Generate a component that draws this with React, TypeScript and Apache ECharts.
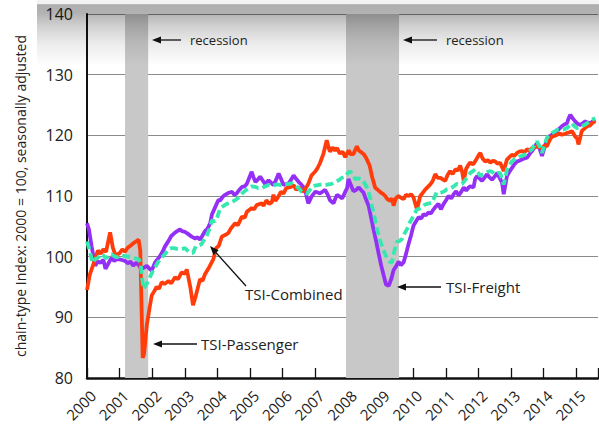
import React, { useEffect, useRef } from "react";
import * as echarts from "echarts";

// x = months since Jan 2000
const yearTicks = [2000, 2001, 2002, 2003, 2004, 2005, 2006, 2007, 2008, 2009, 2010, 2011, 2012, 2013, 2014, 2015];
const recessions: [number, number][] = [[14, 22.5], [95.3, 114.8]];

const passenger: [number, number][] = [[0,94.5],[1,97],[3,99.6],[4,101],[5,100.5],[6,101.2],[7,100.8],[8.5,104],[9.5,101.5],[10.5,100.2],[12,100.6],[13,101.2],[14,100.8],[15,101.5],[16,101.8],[17,102.2],[18,102.5],[19,102.8],[19.6,101],[20.5,83.3],[21,84],[22,88.7],[23,91.5],[23.8,93.6],[24.6,94.2],[25.6,95],[26.5,94.7],[27.5,95.8],[28.5,95.5],[30,96],[31,95.6],[32.4,96.6],[33.5,96.3],[34.8,97.4],[36,97.2],[36.7,97.9],[38,95],[39,92],[40,93.5],[41.6,96.3],[42.5,96],[43.4,97.1],[45,98.3],[46.5,99.6],[47.5,101.4],[48.5,101.8],[49.6,103.3],[51,103.6],[52,103.9],[53,104.7],[54.5,105.5],[55.5,105.2],[57,106.6],[58,106.4],[58.8,107.4],[60.6,108],[61.5,107.8],[62.4,108.5],[64.3,108.8],[65,108.4],[66,109.3],[67,108.7],[68,109],[68.6,110.2],[69.3,109.2],[70,109.6],[71.4,110.7],[72.3,110.4],[73.3,111.3],[75,111.5],[76,111.8],[77,111],[78,111.4],[79.6,110.7],[80.5,111.3],[81.4,112],[82.6,113.4],[83.9,114],[84.8,114.6],[85.7,115.4],[87,117],[88.2,119.2],[89,117.8],[89.4,117.3],[90.3,118],[91.2,117.5],[92,117.9],[93,117],[94,117.3],[95,116.4],[96.3,117.5],[97,116.9],[98,116.9],[99.3,118.2],[100,117.5],[101,117.2],[102,116.8],[103,116],[104,115],[104.8,113.3],[106,111.4],[107,111],[108,110.6],[109,110.3],[109.7,110],[110.5,109.5],[111.6,109.2],[112.2,109.6],[112.8,108.4],[113.6,109.6],[114.6,110],[115.5,109.7],[116.5,109.5],[117.3,110.2],[118.3,110],[119.2,110.3],[120.1,109.8],[121.4,107.8],[122.6,110],[123.5,110.5],[124.5,111.1],[125.4,111.5],[126.3,111.9],[127.2,112.5],[128.1,113.6],[129,113],[130,113],[131,112.7],[131.8,112.5],[132.7,113.5],[133.6,114.1],[134.5,113.6],[135.5,114.4],[136.4,114.2],[137.3,115],[138,114],[138.6,112.5],[139.5,114.5],[140.4,115.2],[141,115.5],[142,115.2],[142.8,115.7],[143.8,116.5],[144.7,117.1],[145.5,116.2],[146.5,115.7],[147.5,115.9],[148.4,115.5],[149.3,115.8],[150.2,115.7],[151,115.3],[152,115.5],[153.3,114.1],[154.5,116],[155.4,116.4],[156.3,116.8],[157.2,116.6],[158.2,117.1],[159,117.3],[160,117.4],[161,117.2],[161.9,117.7],[162.8,117.5],[163.7,117.9],[164.6,118],[165.5,118.2],[166.5,118],[167.4,117.9],[168.3,118.3],[169.2,118.2],[170,119],[171,119.8],[172,119.9],[172.9,120.1],[173.8,120.3],[174.7,120.1],[175.6,120.2],[176.6,120.4],[177.5,120.5],[178.4,120.7],[179.6,119.8],[180.3,119.5],[180.8,118.5],[181.4,119.5],[182,120.7],[183,121.1],[184,121.5],[185,121.6],[185.8,122],[187,122.3]];

const freight: [number, number][] = [[0,105.5],[0.7,104.5],[1.7,101.7],[3,98.5],[4,99.2],[5,99],[6,99.5],[6.8,98],[8,99],[9,99.8],[10,99.3],[11,99.6],[12.5,99.5],[14,99.3],[15,98.9],[16,99.2],[17,98.5],[18,99],[19,98.6],[20,98],[21,98.2],[22,98.5],[23,98],[23.8,97.7],[25,99],[26,99.6],[26.9,100.1],[27.8,100.8],[28.7,101.7],[30,102.6],[31,103.4],[32.5,104],[34.2,104.5],[35,104.2],[36,104.1],[37,103.8],[38.5,103.3],[39.8,103],[40.7,103.2],[41.6,102.8],[42.5,103.5],[43.4,104.2],[44.3,104.6],[45.3,105.5],[46,107],[47,108],[48.3,109.3],[49,109.3],[50,109.9],[50.8,110.2],[52,110.5],[53.3,110.7],[54.2,110.2],[55,110.4],[56,111],[57,111.5],[58,111.6],[58.8,112],[59.7,113],[60.6,114],[61.3,113],[62,112.3],[63,112.8],[63.7,113.2],[64.6,112.6],[65.5,112],[66.2,112.3],[66.8,112.6],[67.7,112.2],[68.6,111.8],[69.6,112.7],[70.5,113.7],[71.4,112.8],[72.3,111.8],[73.2,112],[74,112],[75,112.6],[76,113.4],[77,112.8],[77.9,112.3],[78.8,111.9],[79.6,111.5],[80.5,110.5],[81.4,108.8],[82,109.3],[82.6,109.9],[83.3,110.3],[84,110.7],[84.8,110.6],[85.7,110.4],[86.6,110.7],[87.6,111],[88.5,110.3],[89.4,109.3],[90.7,108.8],[91.3,109.5],[92,110.2],[93,109.9],[93.9,109.6],[94.8,110.5],[95.7,111.3],[96.2,112.8],[97,111.9],[98,110.8],[99,111],[100,111.4],[101,110.9],[101.7,110.6],[102.6,109.5],[103.6,108.4],[104.5,106.5],[105.4,104.5],[106.4,102.5],[107.3,100.5],[108.2,98.6],[109.2,96.8],[110,95.4],[111,95.2],[112,96.4],[112.8,97.8],[113.7,98.4],[114.6,99.2],[115.5,98.6],[116.5,99.1],[117.4,100.5],[118.3,102.1],[119.2,103.5],[120.1,105.1],[121,105.8],[122,106.5],[123,106.3],[123.8,107],[124.7,106.8],[125.6,107.3],[126.5,107.1],[127.5,107.8],[128.4,108.3],[129.3,108.7],[130.2,107.8],[131.2,108.7],[132.1,109.3],[133,110],[134,109.6],[134.9,110.3],[135.8,110.8],[136.7,110.1],[137.7,110.7],[138.6,111.4],[139.5,110.9],[140.4,111.4],[141,111.6],[142.2,111.4],[142.8,112.8],[143.5,113.3],[144.4,112.9],[145.3,112.5],[146.2,113],[147.2,113.6],[148,113.1],[149,112.7],[150,113.2],[150.9,113.8],[151.8,113],[152.7,112.2],[153.3,110.3],[154,112],[154.5,113.3],[155.4,114],[156.3,114.6],[157.2,115.2],[158.2,115.7],[159,115.8],[160,116],[161,116.2],[161.9,116.3],[162.8,116.9],[163.7,117.4],[164.6,118],[165.5,118.7],[166.5,117.8],[167.4,116.6],[168.3,118],[169.2,119.3],[170,119.8],[171,120.1],[172,120.4],[172.9,120.7],[173.8,121.1],[174.7,121.5],[175.6,121.8],[176.6,122],[177.2,122.8],[177.8,123.4],[178.7,122.8],[179.6,122.3],[180.5,121.9],[181.5,121.7],[182.4,122],[183.3,122.3],[184.2,122.1],[185.2,122],[186,122.3],[187,122.6]];

const combined: [number, number][] = [[0,102.5],[1,101],[2,99],[3,99.6],[4,99.8],[5,100.4],[6,100.2],[7,99.7],[8,100.2],[9,100.4],[10,100.1],[11,99.9],[12.5,100.2],[14,100.1],[15,100],[16,99.9],[17,99.8],[18,99.7],[19,99.6],[19.7,99],[20.7,94.7],[22,95.5],[23,96.5],[24,97.4],[25,98.2],[26,99],[27,99.6],[28,100.1],[29,100.6],[30,101.2],[31,101.4],[32,101.4],[33,101.3],[34,101.2],[35,101.3],[36,101.4],[37,101],[38,100.7],[39,100.6],[40,101.7],[41,101.8],[42,102],[43,102.7],[44,103.4],[45,104.5],[46,106],[47,105.8],[48,106.6],[49,108],[50,108.3],[51,108.6],[52,108.8],[53,109],[54.5,109.3],[56,109.8],[57,110.4],[58,110.8],[59.4,111.3],[60.5,111.6],[62,111.5],[63,111.3],[64.3,111.3],[65.5,111.6],[66.8,111.8],[68,111.6],[69,111.8],[70,111.9],[71.4,111.8],[72.7,111.9],[74,112],[75.3,112.1],[76.6,111.8],[78,111.2],[79,110.7],[80,110.5],[81,110.4],[82,111],[82.6,111.5],[83.8,111.7],[85,111.8],[86.3,111.9],[87.6,111.8],[88.8,111.9],[90,112],[91.3,112.3],[92.6,112.6],[93.8,113],[95,113.2],[96,113.8],[96.8,114.1],[97.7,113.4],[98.7,112.8],[99.8,112.9],[101,112.8],[102,112.2],[103,111.4],[104,110],[104.8,108.4],[105.8,106.5],[106.7,104.5],[107.6,103],[108.5,101.8],[109.5,100.6],[110.4,99.7],[111.3,99.2],[112.2,99],[113,100.8],[114,102.4],[115,102.6],[115.9,102.9],[116.8,103.8],[117.7,104.5],[118.6,105.5],[119.5,106.2],[120.5,107.1],[121.4,107.8],[122.3,107.9],[123.2,108.1],[124.1,108.5],[125,108.7],[126,108.8],[126.9,108.9],[127.8,109.8],[128.7,110.6],[129.7,110.5],[130.6,110.6],[131.5,110.8],[132.4,111.1],[133.4,111.2],[134.3,111.4],[135.2,111.7],[136.1,112],[137,111.9],[138,112],[138.9,112.5],[139.8,113],[141,113.8],[142,114.1],[142.8,114.4],[143.8,113.9],[144.7,113.3],[145.6,113.6],[146.5,113.8],[147.5,114],[148.4,114.1],[149.3,113.9],[150.2,113.6],[151.1,113.8],[152,113.8],[153.3,111.9],[154,113.2],[154.5,114.4],[155.4,115.1],[156.3,115.7],[157.2,116],[158.2,116.3],[159,116.5],[160,116.6],[161,116.8],[161.9,117.1],[162.8,117.4],[163.7,117.7],[164.6,118.4],[165.5,119],[166.5,118.2],[167.4,117.1],[168.3,118.4],[169.2,119.6],[170,120],[171,120.4],[172,120.6],[172.9,120.9],[173.8,120.9],[174.7,120.9],[175.6,121],[176.6,121.2],[177.5,121.6],[178.4,122],[179.3,121.5],[180.3,121.2],[181.2,121.3],[182,121.5],[183,121.7],[184,122],[184.9,122.3],[185.8,122.6],[187,122.8]];

const FONT = "'Open Sans', sans-serif";

function arrow(tipX: number, tipY: number, tailX: number, tailY: number) {
  const dx = tailX - tipX;
  const dy = tailY - tipY;
  const len = Math.sqrt(dx * dx + dy * dy);
  const ux = dx / len, uy = dy / len;
  const hl = 9, hw = 3.5;
  const bx = tipX + ux * hl, by = tipY + uy * hl;
  const px = -uy, py = ux;
  return [
    { type: "line", z: 100, shape: { x1: bx, y1: by, x2: tailX, y2: tailY }, style: { stroke: "#111", lineWidth: 1.3 } },
    { type: "polygon", z: 100, shape: { points: [[tipX, tipY], [bx + px * hw, by + py * hw], [bx - px * hw, by - py * hw]] }, style: { fill: "#111" } },
  ];
}

function label(text: string, x: number, y: number, size: number) {
  return { type: "text", z: 100, x, y, style: { text, fill: "#222", font: `${size}px ${FONT}`, verticalAlign: "middle", align: "left" } };
}

export default function App() {
  const ref = useRef<HTMLDivElement>(null);
  useEffect(() => {
    const chart = echarts.init(ref.current!, null, { renderer: "svg" });
    const option: any = {
      animation: false,
      backgroundColor: "#fff",
      grid: { left: 87, right: 1, top: 14, bottom: 48 },
      xAxis: {
        type: "value",
        min: 0,
        max: 188,
        interval: 12,
        splitLine: { show: false },
        axisLine: { show: true, lineStyle: { color: "#111", width: 2.5 } },
        axisTick: { show: true, inside: true, length: 10, lineStyle: { color: "#111", width: 1.3 } },
        axisLabel: { show: false },
      },
      yAxis: {
        type: "value",
        min: 80,
        max: 140,
        interval: 10,
        name: "chain-type Index: 2000 = 100, seasonally adjusted",
        nameLocation: "middle",
        nameGap: 60,
        nameTextStyle: { fontSize: 14, fontFamily: FONT, color: "#222" },
        axisLine: { show: true, lineStyle: { color: "#111", width: 2 } },
        axisTick: { show: false },
        axisLabel: { fontSize: 16, fontFamily: FONT, color: "#222", margin: 14 },
        splitLine: { show: true, lineStyle: { color: "#8a8a8a", width: 1 } },
      },
      series: [
        {
          name: "TSI-Freight",
          type: "line",
          data: freight,
          showSymbol: false,
          lineStyle: { color: "#9430f5", width: 3.8 },
          z: 3,
          markArea: {
            silent: true,
            itemStyle: { color: "#c8c8c8" },
            data: recessions.map(([a, b]) => [{ xAxis: a }, { xAxis: b }]),
          },
        },
        {
          name: "TSI-Passenger",
          type: "line",
          data: passenger,
          showSymbol: false,
          lineStyle: { color: "#ff3c0a", width: 3.8 },
          z: 4,
        },
        {
          name: "TSI-Combined",
          type: "line",
          data: combined,
          showSymbol: false,
          lineStyle: { color: "#35e8b0", width: 3.8, type: [8, 4] },
          z: 5,
        },
      ],
    };
    chart.setOption(option);

    // Year tick labels, positioned through the axis scale and rotated 45°
    const yearLabels = yearTicks.map((yr) => {
      const [px, py] = chart.convertToPixel({ gridIndex: 0 }, [(yr - 2000) * 12, 80]) as number[];
      return {
        type: "text",
        z: 100,
        x: px + 6,
        y: py + 15,
        rotation: Math.PI / 4,
        style: { text: String(yr), fill: "#222", font: `15px ${FONT}`, align: "right", verticalAlign: "middle" },
      };
    });

    chart.setOption({
      graphic: [
        {
          type: "rect",
          z: 50,
          silent: true,
          shape: { x: 37, y: 0, width: 562, height: 66 },
          style: {
            fill: new echarts.graphic.LinearGradient(0, 0, 0, 1, [
              { offset: 0, color: "rgba(0,0,0,0.05)" },
              { offset: 0.06, color: "rgba(0,0,0,0.05)" },
              { offset: 0.07, color: "rgba(0,0,0,0.32)" },
              { offset: 0.2, color: "rgba(0,0,0,0.3)" },
              { offset: 0.4, color: "rgba(0,0,0,0.18)" },
              { offset: 0.65, color: "rgba(0,0,0,0.08)" },
              { offset: 1, color: "rgba(0,0,0,0)" },
            ]),
          },
        },
        ...arrow(152, 40, 181, 40),
        label("recession", 190, 40, 13),
        ...arrow(403, 40, 437, 40),
        label("recession", 446, 40, 13),
        ...arrow(397, 287, 441, 287),
        label("TSI-Freight", 446, 287, 15),
        ...arrow(153, 344, 197, 344),
        label("TSI-Passenger", 201, 344, 15),
        ...arrow(210, 246, 246, 286),
        label("TSI-Combined", 245, 294, 15),
        ...yearLabels,
      ],
    });
    return () => chart.dispose();
  }, []);
  return <div ref={ref} style={{ position: "fixed", left: 0, top: 0, width: 599, height: 426 }} />;
}
